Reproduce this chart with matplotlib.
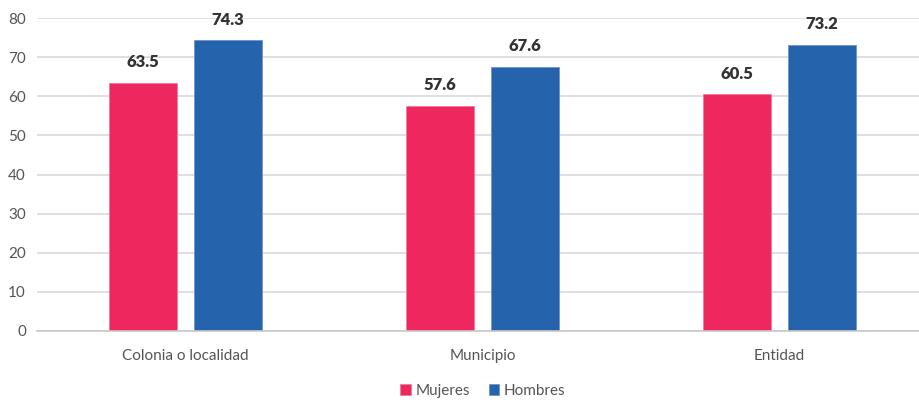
import matplotlib
matplotlib.use("Agg")
import matplotlib.pyplot as plt
import numpy as np

categories = ["Colonia o localidad", "Municipio", "Entidad"]
mujeres = [63.5, 57.6, 60.5]
hombres = [74.3, 67.6, 73.2]
series_names = ["Mujeres", "Hombres"]
yticks = [0, 10, 20, 30, 40, 50, 60, 70, 80]

pink = "#EE285E"
blue = "#2663AD"

plt.rcParams['font.family'] = ['Lato', 'DejaVu Sans']

fig = plt.figure(figsize=(9.19, 4.0), dpi=100)
ax = fig.add_axes([37/919, 69/400, 882/919, 313/400])

x = np.arange(len(categories))
off = 0.1425
w = 0.229
b1 = ax.bar(x - off, mujeres, w, color=pink, edgecolor="#f27a9a", linewidth=0.6, label=series_names[0], zorder=3)
b2 = ax.bar(x + off, hombres, w, color=blue, edgecolor="#6e95c9", linewidth=0.6, label=series_names[1], zorder=3)

for bars, vals in ((b1, mujeres), (b2, hombres)):
    for r, v in zip(bars, vals):
        ax.annotate(f"{v:.1f}", (r.get_x() + r.get_width()/2, v), xytext=(0, 9),
                    textcoords="offset points", ha="center", va="bottom",
                    fontsize=12, fontweight="heavy", color="#333333")

ax.set_xlim(-0.5, -0.5 + 882/297)
ax.set_ylim(0, 80)
ax.set_yticks(yticks)
ax.set_xticks(x)
ax.set_xticklabels(categories)
ax.tick_params(axis="both", length=0, labelsize=11, colors="#555555")
ax.tick_params(axis="x", pad=13)
ax.tick_params(axis="y", pad=8)
ax.yaxis.grid(True, color="#d9d9d9", linewidth=1.2, zorder=0)
for s in ["top", "right", "left"]:
    ax.spines[s].set_visible(False)
ax.spines["bottom"].set_color("#c8c8c8")
ax.spines["bottom"].set_linewidth(1.2)
ax.spines["bottom"].set_zorder(4)

leg = fig.legend(handles=[b1, b2], labels=series_names, loc="center", bbox_to_anchor=(483/919, 9/400),
                 ncol=2, frameon=False, fontsize=11, handlelength=0.7, handleheight=0.7,
                 handletextpad=0.3, columnspacing=1.2, labelcolor="#555555")

fig.savefig("out.png", dpi=100)
